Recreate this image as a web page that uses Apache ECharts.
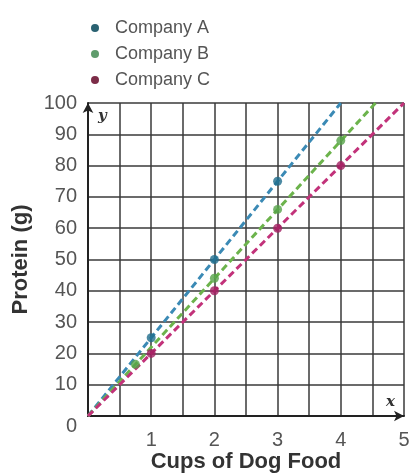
<!DOCTYPE html>
<html>
<head>
<meta charset="utf-8">
<script src="https://cdn.jsdelivr.net/npm/echarts@6/dist/echarts.min.js"></script>
<style>html,body{margin:0;padding:0;background:#fff}#c{width:410px;height:474px}</style>
</head>
<body>
<div id="c"></div>
<script>
const seriesNames = ['Company A', 'Company B', 'Company C'];
const pointsA = [[1, 25], [2, 50], [3, 75]];
const pointsB = [[0.75, 16.5], [2, 44], [3, 66], [4, 88]];
const pointsC = [[1, 20], [2, 40], [3, 60], [4, 80]];
const lineA = [[0, 0], [4, 100]];
const lineB = [[0, 0], [4.55, 100]];
const lineC = [[0, 0], [5, 100]];
const xTicks = [1, 2, 3, 4, 5];
const yTicks = [0, 10, 20, 30, 40, 50, 60, 70, 80, 90, 100];

const lineColors = ['#3b8ab5', '#6cb34c', '#c2327a'];
const dotColors = ['#1f6d8c', '#55a348', '#a21f61'];
const legendColors = ['#2a6272', '#5f9c6c', '#7c2c48'];

const chart = echarts.init(document.getElementById('c'));
const font = 'Liberation Sans, Arial, sans-serif';

const pts = [pointsA, pointsB, pointsC];
const lines = [lineA, lineB, lineC];
const series = [];
seriesNames.forEach((n, i) => {
  series.push({
    name: n, type: 'line', data: lines[i], showSymbol: false, symbol: 'none',
    lineStyle: { color: lineColors[i], width: 3, type: [7, 4] },
    itemStyle: { color: legendColors[i] }, z: 3, silent: true
  });
  series.push({
    name: n, type: 'scatter', data: pts[i], symbolSize: 9,
    itemStyle: { color: dotColors[i] }, z: 4
  });
});

chart.setOption({
  animation: false,
  textStyle: { fontFamily: font },
  legend: {
    orient: 'vertical', left: 86, top: 14, itemGap: 8,
    icon: 'circle', itemWidth: 20, itemHeight: 8,
    data: seriesNames.map((n, i) => ({ name: n, itemStyle: { color: legendColors[i] } })),
    textStyle: { fontSize: 18, color: '#555', padding: [0, 0, 0, 5], fontFamily: font }
  },
  grid: { left: 88, right: 6, top: 103, bottom: 58, containLabel: false, outerBoundsMode: 'none' },
  xAxis: {
    type: 'value', min: 0, max: 5, interval: 0.5,
    name: 'Cups of Dog Food', nameLocation: 'middle', nameGap: 35, nameMoveOverlap: false,
    nameTextStyle: { fontSize: 22, fontWeight: 'bold', color: '#333', fontFamily: font },
    axisLine: { show: true, symbol: ['none', 'arrow'], symbolSize: [8, 10], lineStyle: { color: '#222', width: 2 } },
    axisTick: { show: false },
    axisLabel: {
      fontSize: 20, color: '#555', margin: 14, showMinLabel: true, showMaxLabel: true,
      formatter: v => (xTicks.indexOf(v) >= 0 ? String(v) : '')
    },
    splitLine: { show: true, lineStyle: { color: '#3a3a3a', width: 1.5 } }
  },
  yAxis: {
    type: 'value', min: 0, max: 100, interval: 10,
    name: 'Protein (g)', nameLocation: 'middle', nameGap: 56, nameRotate: 90, nameMoveOverlap: false,
    nameTextStyle: { fontSize: 22, fontWeight: 'bold', color: '#333', fontFamily: font },
    axisLine: { show: true, symbol: ['none', 'arrow'], symbolSize: [8, 10], lineStyle: { color: '#222', width: 2 } },
    axisTick: { show: false },
    axisLabel: {
      fontSize: 20, color: '#555', margin: 11,
      formatter: v => (yTicks.indexOf(v) < 0 ? '' : (v === 0 ? '{z|0}' : String(v))),
      rich: { z: { fontSize: 20, color: '#555', padding: [20, 0, 0, 0], fontFamily: font } }
    },
    splitLine: { show: true, lineStyle: { color: '#3a3a3a', width: 1.5 } }
  },
  series: series
});

const pY = chart.convertToPixel({ gridIndex: 0 }, [0, 100]);
const pX = chart.convertToPixel({ gridIndex: 0 }, [5, 0]);
chart.setOption({
  graphic: [
    { type: 'text', x: pY[0] + 10, y: pY[1] + 6,
      style: { text: 'y', font: 'italic bold 15px DejaVu Serif, serif', fill: '#333' } },
    { type: 'text', x: pX[0] - 18, y: pX[1] - 21,
      style: { text: 'x', font: 'italic bold 15px DejaVu Serif, serif', fill: '#333' } }
  ]
});
</script>
</body>
</html>
